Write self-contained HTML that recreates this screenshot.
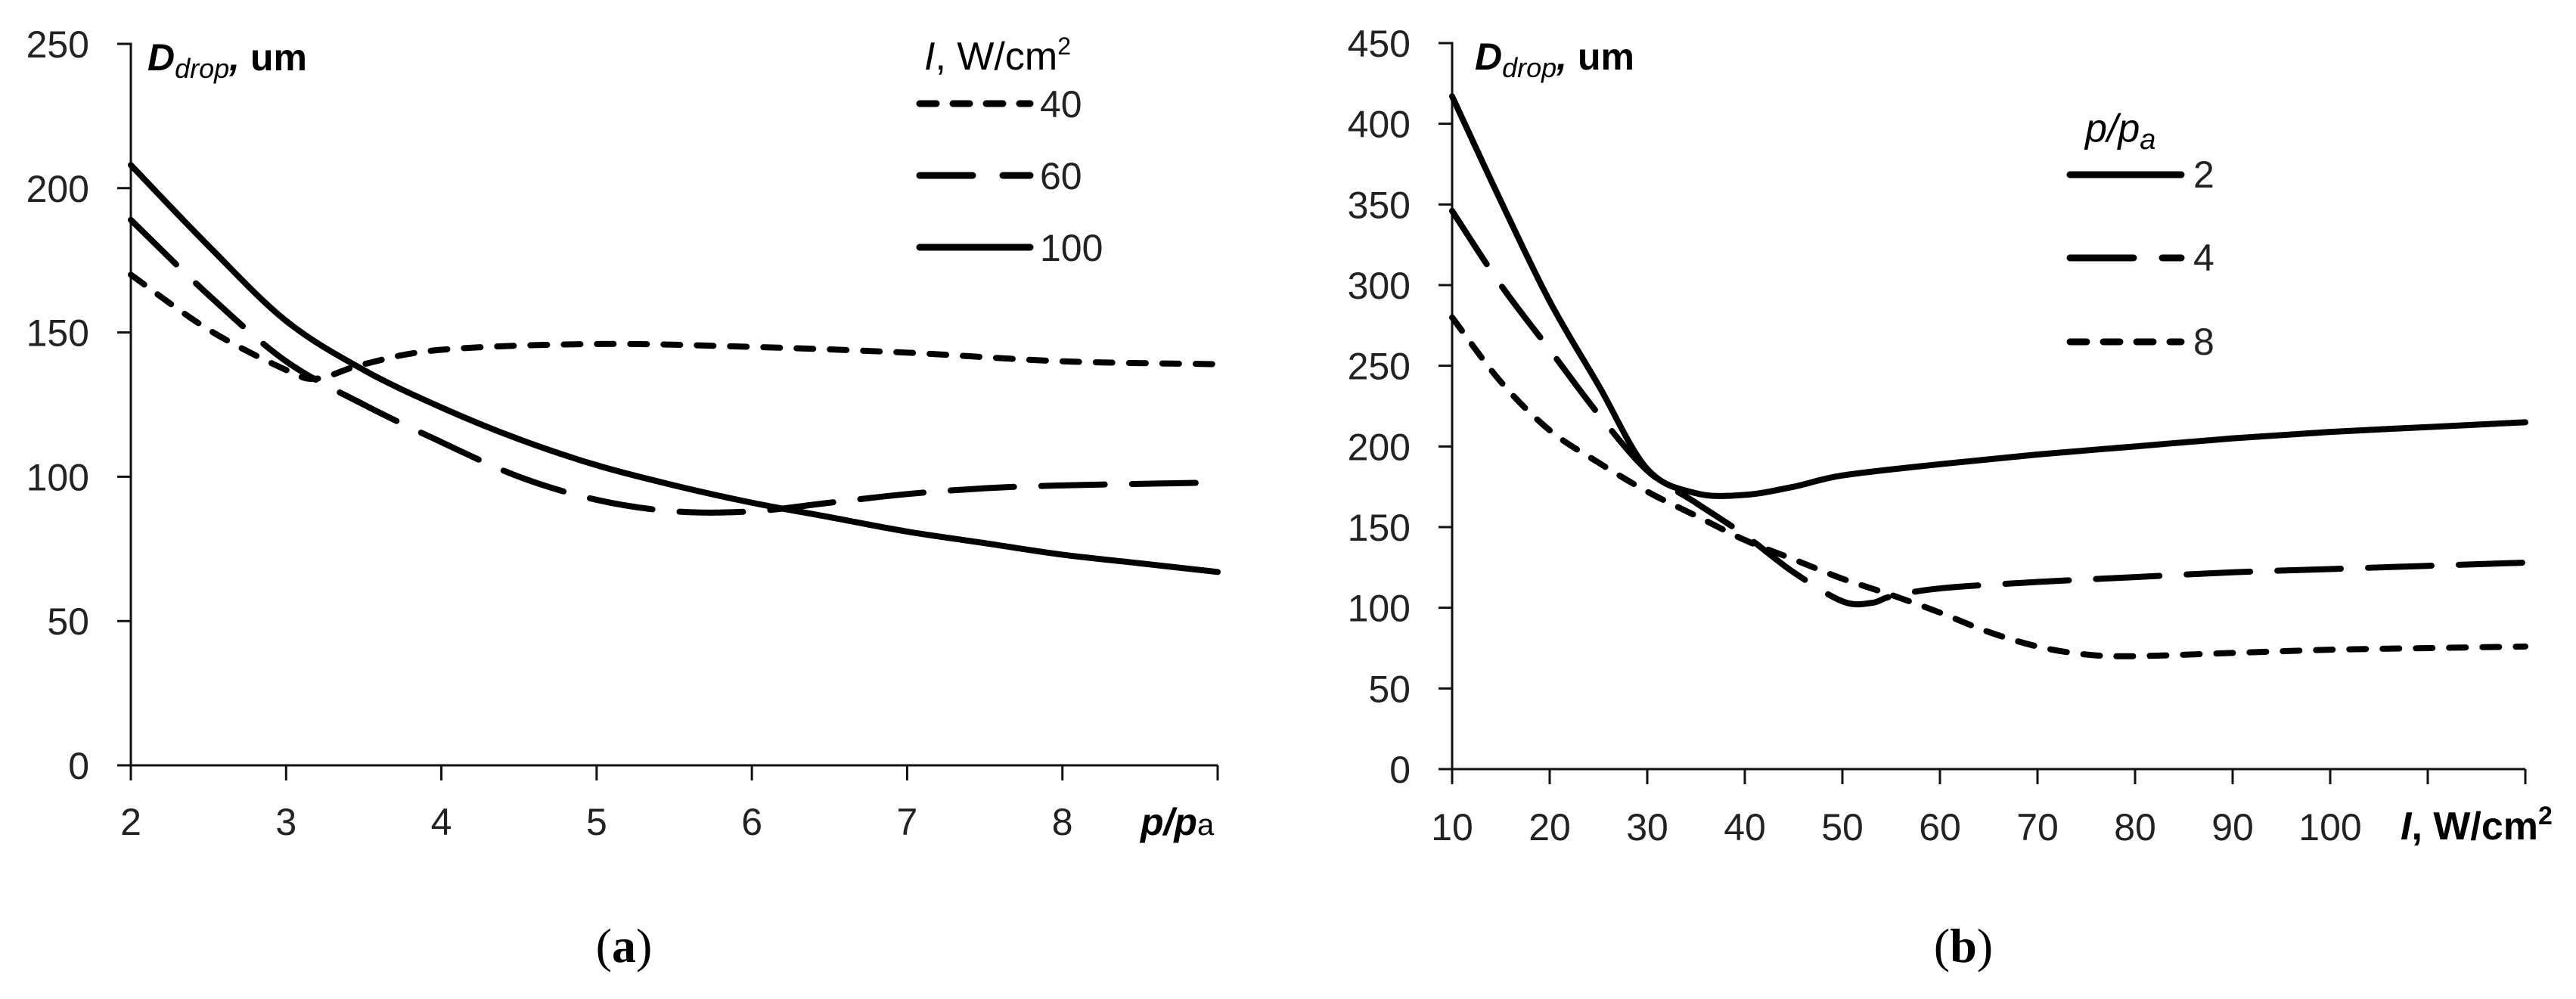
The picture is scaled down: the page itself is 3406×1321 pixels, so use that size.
<!DOCTYPE html>
<html><head><meta charset="utf-8">
<style>
html,body{margin:0;padding:0;background:#fff;}
svg{display:block;font-family:"Liberation Sans",sans-serif;}
.tick{font-size:50px;fill:#222;}
</style></head>
<body>
<svg id="chart" width="3406" height="1321" viewBox="0 0 3406 1321">
<g id="A"></g>
<g id="B"></g>
<text x="825" y="1272" text-anchor="middle" font-family="Liberation Serif,serif" font-size="64">(<tspan font-weight="bold">a</tspan>)</text>
<text x="2596" y="1272" text-anchor="middle" font-family="Liberation Serif,serif" font-size="64">(<tspan font-weight="bold">b</tspan>)</text>
</svg>
<script>
// Chart (a) data
const aXTicks = [2,3,4,5,6,7,8,9];
const aYTicks = [0,50,100,150,200,250];
const aX100 = [2,2.5,3,3.5,4,4.5,5,5.5,6,6.5,7,7.5,8,8.5,9];
const aY100 = [208,180,154,137,124,113,104,97,91,86,81,77,73,70,67];
const aX60 = [2,2.5,3,3.5,4,4.5,5,5.5,6,6.5,7,7.5,8,9];
const aY60 = [189,163,140,125,112,100,92,88,88,91,94,96,97,98];
const aX40 = [2,2.5,3,3.2,3.5,4,5,6,7,8,9];
const aY40 = [170,151,137,134,139,144,146,145,143,140,139];
// Chart (b) data
const bXTicks = [10,20,30,40,50,60,70,80,90,100,110,120];
const bYTicks = [0,50,100,150,200,250,300,350,400,450];
const bX2 = [10,15,20,25,30,35,40,45,50,60,70,80,90,100,110,120];
const bY2 = [417,352,290,238,186,171,170,175,182,189,195,200,205,209,212,215];
const bX4 = [10,15,20,25,30,35,40,45,50,53,55,60,70,80,90,100,110,120];
const bY4 = [346,300,260,220,185,165,145,122,104,103,107,112,116,119,122,124,126,128];
const bX8 = [10,15,20,25,30,35,40,45,50,55,60,65,70,75,80,90,100,110,120];
const bY8 = [280,240,210,190,172,157,142,130,118,108,97,85,76,71,70,72,74,75,76];

const NS="http://www.w3.org/2000/svg";
function mk(parent,tag,attrs){const e=document.createElementNS(NS,tag);for(const k in attrs)e.setAttribute(k,attrs[k]);parent.appendChild(e);return e;}
function smooth(pts){let d=`M${pts[0][0]},${pts[0][1]}`;for(let i=0;i<pts.length-1;i++){const p0=pts[i-1]||pts[i],p1=pts[i],p2=pts[i+1],p3=pts[i+2]||p2;const c1=[p1[0]+(p2[0]-p0[0])/6,p1[1]+(p2[1]-p0[1])/6],c2=[p2[0]-(p3[0]-p1[0])/6,p2[1]-(p3[1]-p1[1])/6];d+=` C${c1[0]},${c1[1]} ${c2[0]},${c2[1]} ${p2[0]},${p2[1]}`;}return d;}
const DOT="22 22", DASH="84 36";

function axes(g,x,y,xT,yT,x0,x1,y0,y1){
  const ax=mk(g,'path',{d:`M${x0-18},${y(yT[yT.length-1])} H${x0} V${y0} H${x1}`,fill:'none',stroke:'#111','stroke-width':3});
  
  
  yT.forEach(v=>{const t=mk(g,'line',{x1:x0-18,x2:x0,y1:y(v),y2:y(v),stroke:'#111','stroke-width':3});
    
    
    const l=mk(g,'text',{x:x0-55,y:y(v)+18,'text-anchor':'end',class:'tick'});l.textContent=v;
    
    });
  xT.forEach(v=>{const t=mk(g,'line',{x1:x(v),x2:x(v),y1:y0,y2:y0+20,stroke:'#111','stroke-width':3});
    
    });
}
function series(g,x,y,xs,ys,dash,name){
  const p=mk(g,'path',{d:smooth(xs.map((v,i)=>[x(v),y(ys[i])])),fill:'none',stroke:'#000','stroke-width':8,'stroke-linecap':'round'});
  if(dash)p.setAttribute('stroke-dasharray',dash);
  
  
}
function legendLine(g,x1,x2,yy,dash,name){
  const l=mk(g,'line',{x1:x1,x2:x2,y1:yy,y2:yy,stroke:'#000','stroke-width':9,'stroke-linecap':'round'});
  if(dash)l.setAttribute('stroke-dasharray',dash);
  
  
}
function txt(g,x,y,html,attrs,name){const t=mk(g,'text',Object.assign({x:x,y:y},attrs||{}));t.innerHTML=html;
  
  return t;}

// ---- Chart A ----
(function(){
  const g=document.getElementById('A');
  const x0=173,x1=1610,y0=1012,yTop=58;
  const x=v=>x0+(v-2)/(9-2)*(x1-x0), y=v=>y0-v/250*(y0-yTop);
  axes(g,x,y,aXTicks,aYTicks,x0,x1,y0,yTop);
  aXTicks.slice(0,7).forEach(v=>txt(g,x(v),1104,v,{'text-anchor':'middle',class:'tick'},'x-tick-label'));
  txt(g,1508,1104,'p/p<tspan font-size="40" font-weight="normal" font-style="normal">a</tspan>',{'font-size':50,'font-weight':'bold','font-style':'italic'},'x-axis-title');
  txt(g,195,93,'D<tspan font-size="36" dy="10" font-weight="normal">drop</tspan><tspan dy="-10">,</tspan> <tspan font-style="normal">um</tspan>',{'font-size':50,'font-weight':'bold','font-style':'italic'},'y-axis-title');
  series(g,x,y,aX40,aY40,DOT,'line-40');
  series(g,x,y,aX60,aY60,DASH,'line-60');
  series(g,x,y,aX100,aY100,null,'line-100');
  txt(g,1222,92,'<tspan font-style="italic">I</tspan>, W/cm<tspan font-size="32" dy="-20">2</tspan>',{'font-size':52},'legend-title');
  legendLine(g,1216,1362,137,DOT,'legend-line-40');
  legendLine(g,1216,1362,232,"70 40",'legend-line-60');
  legendLine(g,1216,1362,327,null,'legend-line-100');
  txt(g,1375,155,'40',{class:'tick'},'legend-label-40');
  txt(g,1375,250,'60',{class:'tick'},'legend-label-60');
  txt(g,1375,345,'100',{class:'tick'},'legend-label-100');
})();

// ---- Chart B ----
(function(){
  const g=document.getElementById('B');
  const x0=1920,x1=3339,y0=1017,yTop=57;
  const x=v=>x0+(v-10)/(120-10)*(x1-x0), y=v=>y0-v/450*(y0-yTop);
  axes(g,x,y,bXTicks,bYTicks,x0,x1,y0,yTop);
  bXTicks.slice(0,10).forEach(v=>txt(g,x(v),1111,v,{'text-anchor':'middle',class:'tick'},'x-tick-label'));
  txt(g,3174,1110,'<tspan font-style="italic">I</tspan>, W/cm<tspan font-size="34" dy="-20">2</tspan>',{'font-size':52,'font-weight':'bold'},'x-axis-title');
  txt(g,1950,92,'D<tspan font-size="36" dy="10" font-weight="normal">drop</tspan><tspan dy="-10">,</tspan> <tspan font-style="normal">um</tspan>',{'font-size':50,'font-weight':'bold','font-style':'italic'},'y-axis-title');
  series(g,x,y,bX8,bY8,DOT,'line-8');
  series(g,x,y,bX4,bY4,DASH,'line-4');
  series(g,x,y,bX2,bY2,null,'line-2');
  txt(g,2757,187,'p/p<tspan font-size="38" dy="10">a</tspan>',{'font-size':52,'font-style':'italic'},'legend-title');
  legendLine(g,2737,2884,231,null,'legend-line-2');
  legendLine(g,2737,2884,341,"84 38",'legend-line-4');
  legendLine(g,2737,2884,452,DOT,'legend-line-8');
  txt(g,2900,248,'2',{class:'tick'},'legend-label-2');
  txt(g,2900,358,'4',{class:'tick'},'legend-label-4');
  txt(g,2900,469,'8',{class:'tick'},'legend-label-8');
})();
</script>
</body></html>
